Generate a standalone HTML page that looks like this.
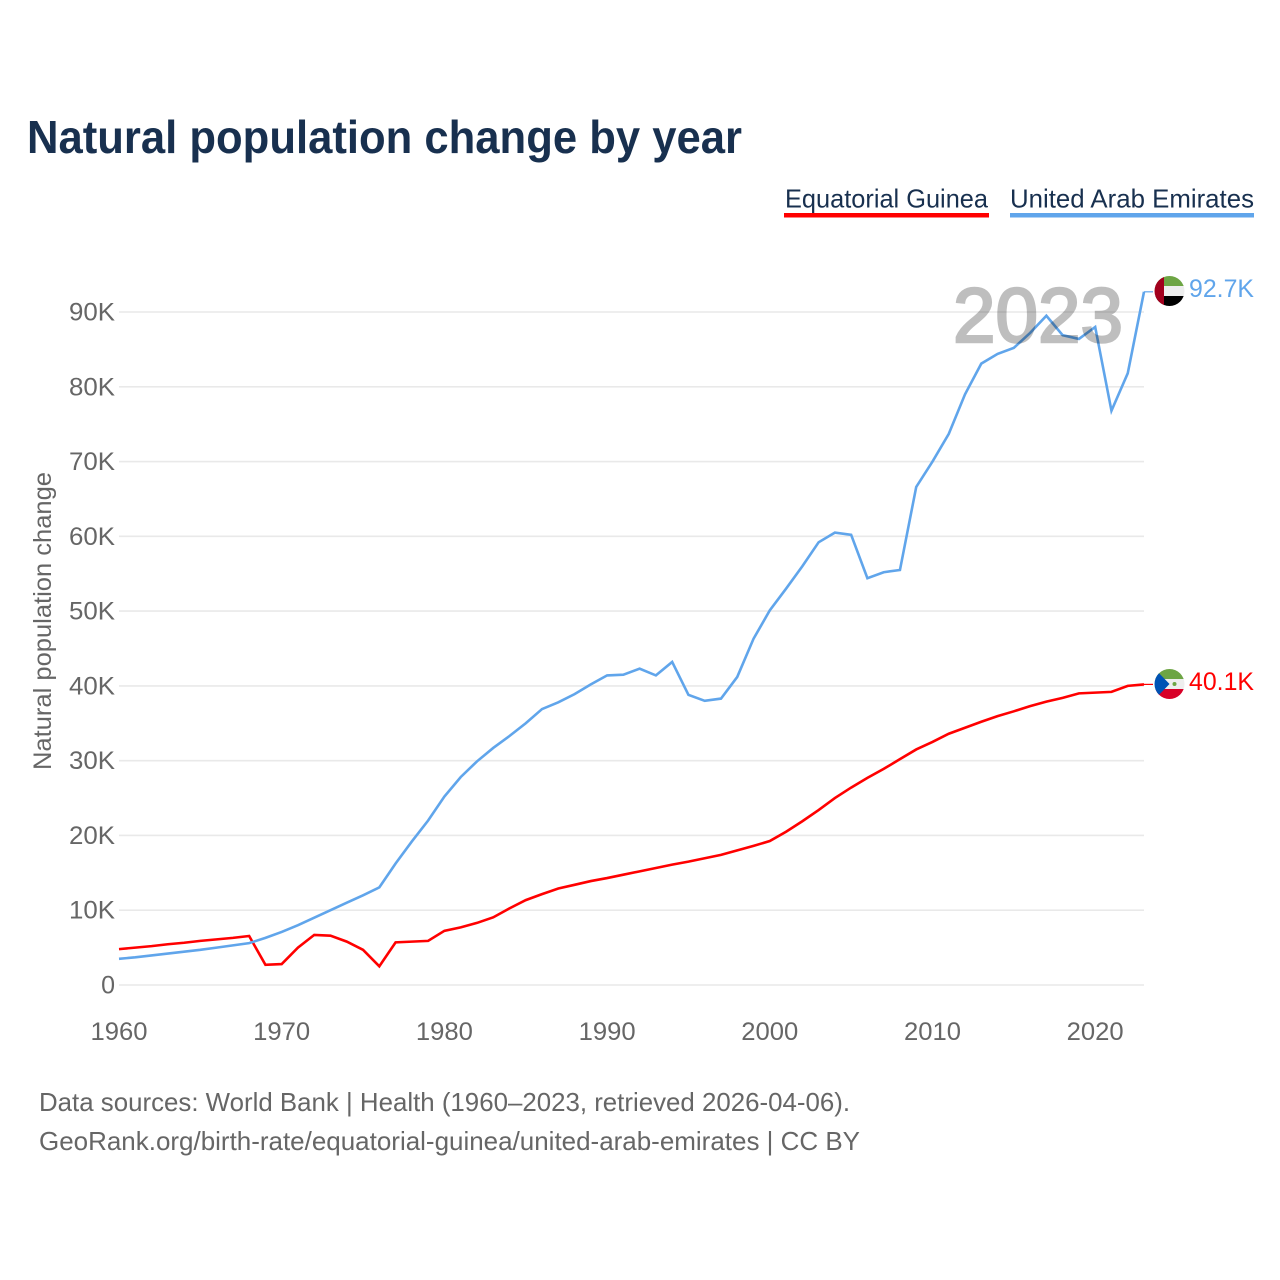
<!DOCTYPE html>
<html lang="en">
<head>
<meta charset="utf-8">
<title>Natural population change by year</title>
<style>
  html, body { margin: 0; padding: 0; background: #fff; }
  svg { display: block; font-family: "Liberation Sans", sans-serif; }
</style>
</head>
<body>
<svg id="chart" xmlns="http://www.w3.org/2000/svg" width="1280" height="1280" viewBox="0 0 1280 1280">
  <defs>
    <clipPath id="clip-uae"><circle cx="1169.5" cy="291" r="15"/></clipPath>
    <clipPath id="clip-eg"><circle cx="1169.5" cy="684" r="15"/></clipPath>
  </defs>
  <rect width="1280" height="1280" fill="#fff"/>
  <text x="27" y="153" font-size="46" font-weight="700" fill="#18304f" textLength="715" lengthAdjust="spacingAndGlyphs">Natural population change by year</text>

  <g>
    <text x="785" y="207.5" font-size="26" fill="#18304f" textLength="203" lengthAdjust="spacingAndGlyphs">Equatorial Guinea</text>
    <rect x="784" y="213" width="205" height="4.5" fill="#ff0000"/>
  </g>
  <g>
    <text x="1010" y="207.5" font-size="26" fill="#18304f" textLength="244" lengthAdjust="spacingAndGlyphs">United Arab Emirates</text>
    <rect x="1010" y="213" width="244" height="4.5" fill="#60a5eb"/>
  </g>

  <g id="grid"></g>
  <g id="y-ticks"></g>
  <g id="x-ticks"></g>
  <text transform="translate(51,770) rotate(-90)" font-size="25" fill="#666" textLength="298" lengthAdjust="spacingAndGlyphs">Natural population change</text>
  <g id="series"></g>

  <text x="953" y="342" font-size="77" fill="#000" stroke="#000" stroke-width="2.5" opacity="0.25" textLength="170" lengthAdjust="spacingAndGlyphs">2023</text>

  <g clip-path="url(#clip-uae)">
    <rect x="1154" y="275" width="32" height="11" fill="#6da544"/>
    <rect x="1154" y="286" width="32" height="10" fill="#eeeeee"/>
    <rect x="1154" y="296" width="32" height="12" fill="#000000"/>
    <rect x="1154" y="275" width="10" height="33" fill="#a2001d"/>
  </g>
  <g clip-path="url(#clip-eg)">
    <rect x="1154" y="668" width="32" height="11" fill="#6da544"/>
    <rect x="1154" y="679" width="32" height="10" fill="#eeeeee"/>
    <rect x="1154" y="689" width="32" height="11" fill="#d80027"/>
    <polygon points="1154,668 1169.5,684 1154,700" fill="#0052b4"/>
    <circle cx="1174.5" cy="684" r="2" fill="#6da544"/>
  </g>
  <text id="label-uae" x="1189" y="297" font-size="25" fill="#60a5eb" textLength="65" lengthAdjust="spacingAndGlyphs"></text>
  <text id="label-eg" x="1189" y="690" font-size="25" fill="#ff0000" textLength="65" lengthAdjust="spacingAndGlyphs"></text>

  <text x="39" y="1111" font-size="26" fill="#666" textLength="811" lengthAdjust="spacingAndGlyphs">Data sources: World Bank | Health (1960–2023, retrieved 2026-04-06).</text>
  <text x="39" y="1150" font-size="26" fill="#666" textLength="821" lengthAdjust="spacingAndGlyphs">GeoRank.org/birth-rate/equatorial-guinea/united-arab-emirates | CC BY</text>
</svg>
<script>
const startYear = 1960;
const yTicks = [0, 10, 20, 30, 40, 50, 60, 70, 80, 90];
const xTicks = [1960, 1970, 1980, 1990, 2000, 2010, 2020];
const uaeValues = [3.5, 3.7, 3.95, 4.2, 4.45, 4.7, 5.0, 5.3, 5.6, 6.3, 7.1, 8.0, 9.0, 10.0, 11.0, 12.0, 13.05, 16.25, 19.2, 22.0, 25.2, 27.8, 29.9, 31.7, 33.3, 35.0, 36.9, 37.8, 38.9, 40.2, 41.4, 41.5, 42.3, 41.4, 43.2, 38.8, 38.0, 38.3, 41.2, 46.3, 50.1, 53.0, 56.0, 59.2, 60.5, 60.2, 54.4, 55.2, 55.5, 66.6, 70.0, 73.7, 79.0, 83.1, 84.4, 85.2, 87.2, 89.5, 86.9, 86.4, 88.0, 76.8, 81.8, 92.7];
const egValues = [4.8, 5.0, 5.2, 5.45, 5.65, 5.9, 6.1, 6.3, 6.55, 2.7, 2.8, 5.0, 6.7, 6.6, 5.8, 4.7, 2.5, 5.7, 5.8, 5.9, 7.25, 7.7, 8.3, 9.05, 10.25, 11.35, 12.15, 12.9, 13.4, 13.9, 14.3, 14.75, 15.2, 15.65, 16.1, 16.5, 16.95, 17.4, 18.0, 18.6, 19.25, 20.5, 21.9, 23.4, 25.0, 26.4, 27.7, 28.9, 30.2, 31.5, 32.5, 33.6, 34.4, 35.2, 35.95, 36.6, 37.3, 37.9, 38.4, 39.0, 39.1, 39.2, 40.0, 40.2];
const uaeEndLabel = '92.7K';
const egEndLabel = '40.1K';

const NS = 'http://www.w3.org/2000/svg';
function xScale(year) { return 119 + (year - 1960) * (1144 - 119) / 63; }
function yScale(v) { return 985 - v * (985 - 312) / 90; }
function make(tag, parent, attrs) {
  const el = document.createElementNS(NS, tag);
  for (const k in attrs) el.setAttribute(k, attrs[k]);
  parent.appendChild(el);
  return el;
}
const grid = document.getElementById('grid');
const yGroup = document.getElementById('y-ticks');
const xGroup = document.getElementById('x-ticks');
const seriesGroup = document.getElementById('series');

yTicks.forEach(function (v) {
  const line = make('line', grid, { x1: 119, x2: 1144, y1: yScale(v), y2: yScale(v), stroke: '#e9e9e9', 'stroke-width': 1.6 });
  
  
  const t = make('text', yGroup, { x: 115, y: yScale(v) + 8.5, 'text-anchor': 'end', 'font-size': 25, fill: '#666' });
  
  
  t.textContent = v === 0 ? '0' : v + 'K';
  if (v !== 0) { t.setAttribute('textLength', '46'); t.setAttribute('lengthAdjust', 'spacingAndGlyphs'); }
});

xTicks.forEach(function (y) {
  const t = make('text', xGroup, { x: xScale(y), y: 1040, 'text-anchor': 'middle', 'font-size': 25, fill: '#666', textLength: 57, lengthAdjust: 'spacingAndGlyphs' });
  
  
  t.textContent = y;
});

function drawSeries(values, color, name) {
  const pts = values.map(function (v, i) { return xScale(startYear + i).toFixed(2) + ',' + yScale(v).toFixed(2); }).join(' ');
  const line = make('polyline', seriesGroup, { points: pts, fill: 'none', stroke: color, 'stroke-width': 2.6, 'stroke-linejoin': 'miter' });
  
  
  const lastY = yScale(values[values.length - 1]);
  const conn = make('line', seriesGroup, { x1: xScale(startYear + values.length - 1), x2: 1153, y1: lastY, y2: lastY, stroke: color, 'stroke-width': 1.2 });
  
  
}
drawSeries(egValues, '#ff0000', 'line-equatorial-guinea');
drawSeries(uaeValues, '#60a5eb', 'line-united-arab-emirates');

document.getElementById('label-uae').textContent = uaeEndLabel;
document.getElementById('label-eg').textContent = egEndLabel;
</script>
</body>
</html>
